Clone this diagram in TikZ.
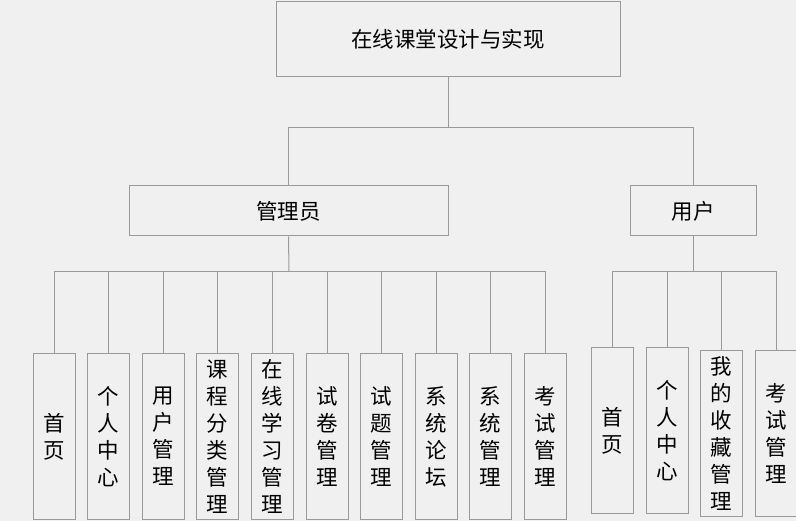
\documentclass[tikz,border=0pt]{standalone}
\usepackage{fontspec}
\setmainfont{Noto Sans CJK SC}
\usepackage{tikz}
\definecolor{bgcol}{HTML}{F0F0F0}
\definecolor{linecol}{HTML}{9A9A9A}
\tikzstyle{hb}=[shape=rectangle,draw=linecol,line width=1pt,inner sep=0pt,font=\fontsize{21.5}{27}\selectfont]
\tikzstyle{vb}=[hb,minimum width=42pt,minimum height=165pt,align=center]
\tikzstyle{link}=[draw=linecol,line width=1pt]

\begin{document}
\begin{tikzpicture}[x=1pt,y=-1pt]
            \fill[bgcol] (0,0) rectangle (796,521);
            \useasboundingbox (0,0) rectangle (796,521);
            \node[hb,minimum width=344pt,minimum height=75pt] (root) at (448,39.5) {在线课堂设计与实现}
            ;
            \node[hb,minimum width=319pt,minimum height=50pt] (admin) at (288.5,211) {管理员}
            ;
            \node[hb,minimum width=126pt,minimum height=50pt] (user) at (693,211) {用户}
            ;
            \coordinate (top) at (448,128);
            \coordinate (abar) at (289,272);
            \coordinate (ubar) at (693,272);
            \draw[link] (root.south) -- (top) -| (admin.north);
            \draw[link] (top) -| (user.north);
            % admin
            \node[vb] (a1) at (54,436.5) {首\\页}
            ;
            \node[vb] (a2) at (108.5,436.5) {个\\人\\中\\心}
            ;
            \node[vb] (a3) at (163,436.5) {用\\户\\管\\理}
            ;
            \node[vb] (a4) at (217.5,436.5) {课\\程\\分\\类\\管\\理}
            ;
            \node[vb] (a5) at (272,436.5) {在\\线\\学\\习\\管\\理}
            ;
            \node[vb] (a6) at (327,436.5) {试\\卷\\管\\理}
            ;
            \node[vb] (a7) at (381.5,436.5) {试\\题\\管\\理}
            ;
            \node[vb] (a8) at (436,436.5) {系\\统\\论\\坛}
            ;
            \node[vb] (a9) at (490.5,436.5) {系\\统\\管\\理}
            ;
            \node[vb] (a10) at (545,436.5) {考\\试\\管\\理}
            ;
            \draw[link] (admin.south) -- (abar);
            \draw[link] (abar) -| (a1.north);
            \draw[link] (abar) -| (a2.north);
            \draw[link] (abar) -| (a3.north);
            \draw[link] (abar) -| (a4.north);
            \draw[link] (abar) -| (a5.north);
            \draw[link] (abar) -| (a6.north);
            \draw[link] (abar) -| (a7.north);
            \draw[link] (abar) -| (a8.north);
            \draw[link] (abar) -| (a9.north);
            \draw[link] (abar) -| (a10.north);
            % user
            \node[vb] (u1) at (612,430.5) {首\\页}
            ;
            \node[vb] (u2) at (667,430.5) {个\\人\\中\\心}
            ;
            \node[vb] (u3) at (721.5,433.5) {我\\的\\收\\藏\\管\\理}
            ;
            \node[vb] (u4) at (776,433.5) {考\\试\\管\\理}
            ;
            \draw[link] (user.south) -- (ubar);
            \draw[link] (ubar) -| (u1.north);
            \draw[link] (ubar) -| (u2.north);
            \draw[link] (ubar) -| (u3.north);
            \draw[link] (ubar) -| (u4.north);
        \end{tikzpicture}
\end{document}
